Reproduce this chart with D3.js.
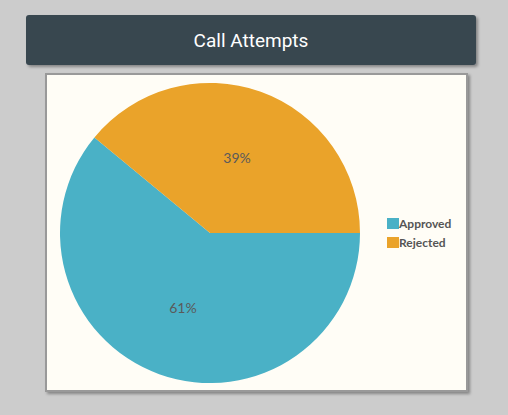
<!DOCTYPE html>
<html><head><meta charset="utf-8">
<script src="https://cdn.jsdelivr.net/npm/d3@7"></script>
<style>
html,body{margin:0;padding:0;background:#cccccc;width:508px;height:415px;overflow:hidden;}
</style></head>
<body>
<svg id="c" width="508" height="415"></svg>
<script>
const title = "Call Attempts";
const categories = ["Approved", "Rejected"];
const values = [61, 39];
const colors = ["#4ab1c6", "#eaa32a"];

const svg = d3.select("#c");
const defs = svg.append("defs");
const f = defs.append("filter").attr("id","sh").attr("x","-5%").attr("y","-5%").attr("width","115%").attr("height","115%");
f.append("feDropShadow").attr("dx",2).attr("dy",2).attr("stdDeviation",1.5).attr("flood-color","#000").attr("flood-opacity",0.35);

// header
svg.append("rect").attr("x",26).attr("y",15).attr("width",450).attr("height",50).attr("rx",3)
  .attr("fill","#37474f").attr("filter","url(#sh)");
svg.append("text").attr("x",251).attr("y",47).attr("text-anchor","middle")
  .attr("font-family","Roboto, 'Open Sans', sans-serif").attr("font-size",19).attr("fill","#ffffff").text(title);

// panel
svg.append("rect").attr("x",46).attr("y",74).attr("width",421).attr("height",317)
  .attr("fill","#fffdf6").attr("stroke","#999999").attr("stroke-width",2).attr("filter","url(#sh)");

const cx = 210, cy = 233, r = 150;
const pie = d3.pie().sort(null).startAngle(Math.PI/2).endAngle(Math.PI/2 + 2*Math.PI);
const arcs = pie(values);
const arc = d3.arc().innerRadius(0).outerRadius(r);
const labelArc = d3.arc().innerRadius(80).outerRadius(80);
const color = d3.scaleOrdinal().domain(categories).range(colors);
const g = svg.append("g").attr("transform",`translate(${cx},${cy})`);
g.selectAll("path").data(arcs).join("path")
  .attr("d",arc).attr("fill",(d,i)=>color(categories[i]));
const total = d3.sum(values);
g.selectAll("text").data(arcs).join("text")
  .attr("transform",d=>`translate(${labelArc.centroid(d)})`)
  .attr("text-anchor","middle").attr("dy","0.35em")
  .attr("font-family","Lato, sans-serif").attr("font-size",14).attr("fill","#5a5a5a")
  .text(d=>Math.round(d.value/total*100)+"%");

// legend
const lg = svg.append("g").attr("transform","translate(387,218)");
const items = lg.selectAll("g").data(categories).join("g").attr("transform",(d,i)=>`translate(0,${i*19})`);
items.append("rect").attr("width",12).attr("height",11).attr("fill",d=>color(d));
items.append("text").attr("x",12).attr("y",10).attr("font-family","Lato, sans-serif").attr("font-weight","bold")
  .attr("font-size",12).attr("fill","#555555").text(d=>d);
</script>
</body></html>
